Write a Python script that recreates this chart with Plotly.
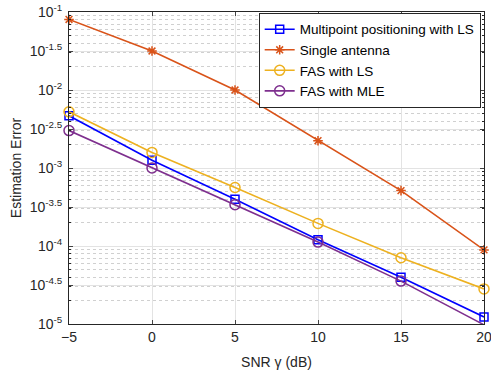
import numpy as np
import plotly.graph_objects as go

snr = [-5, 0, 5, 10, 15, 20]
log_multipoint = [-2.33, -2.90, -3.40, -3.92, -4.40, -4.91]
log_single = [-1.096, -1.50, -2.00, -2.65, -3.29, -4.05]
log_fas_ls = [-2.28, -2.80, -3.25, -3.71, -4.15, -4.55]
log_fas_mle = [-2.52, -3.00, -3.47, -3.95, -4.45, -5.01]

ytick_exps = ["-1", "-1.5", "-2", "-2.5", "-3", "-3.5", "-4", "-4.5", "-5"]
xticks = [-5, 0, 5, 10, 15, 20]

series = [
    ("Multipoint positioning with LS", log_multipoint, "#0000FF", "square-open", 8),
    ("Single antenna", log_single, "#D95319", "asterisk-open", 8),
    ("FAS with LS", log_fas_ls, "#EDB120", "circle-open", 10),
    ("FAS with MLE", log_fas_mle, "#7E2F8E", "circle-open", 10),
]

fig = go.Figure()
for name, vals, color, sym, size in series:
    fig.add_trace(go.Scatter(
        x=snr, y=[10 ** v for v in vals], name=name, mode="lines+markers",
        line=dict(color=color, width=1.6),
        marker=dict(symbol=sym, size=size, color=color, line=dict(color=color, width=1.5)),
        cliponaxis=False,
    ))

yvals = [10 ** float(e) for e in ytick_exps]
ytext = ["10<sup>%s</sup>" % e for e in ytick_exps]
minor_vals = [m * 10 ** d for d in range(-5, -1) for m in range(2, 10)]

fig.update_layout(
    width=491, height=376,
    margin=dict(l=69, r=7, t=12, b=52),
    paper_bgcolor="white", plot_bgcolor="white",
    font=dict(family="Liberation Sans, Arial, sans-serif", size=14, color="#262626"),
    legend=dict(x=0.992, y=0.997, xanchor="right", yanchor="top",
                bgcolor="white", bordercolor="#262626", borderwidth=1,
                font=dict(size=13.5, color="black"), tracegroupgap=0,
                itemwidth=30),
    showlegend=True,
)
fig.update_xaxes(
    range=[-5, 20], tickvals=xticks, ticks="inside", ticklen=4,
    showline=True, linecolor="#262626", linewidth=1, mirror="ticks",
    showgrid=True, gridcolor="#e3e3e3", gridwidth=1, zeroline=False,
    title=dict(text="SNR γ (dB)", standoff=13, font=dict(size=14)),
    tickfont=dict(size=14), automargin=False, ticklabeloverflow="allow",
)
fig.update_yaxes(
    type="log", range=[-5, -1], tickvals=yvals, ticktext=ytext,
    ticks="inside", ticklen=4, ticklabelstandoff=3,
    showline=True, linecolor="#262626", linewidth=1, mirror="ticks",
    showgrid=True, gridcolor="#e3e3e3", gridwidth=1, zeroline=False,
    minor=dict(tickvals=minor_vals, showgrid=True, gridcolor="#d0d0d0",
               griddash="dot", ticks="inside", ticklen=2, tickcolor="#262626"),
    title=dict(text="Estimation Error", standoff=4, font=dict(size=14)),
    tickfont=dict(size=14), automargin=False, ticklabeloverflow="allow",
)

fig.write_html("out.html", config={"displayModeBar": False},
               post_script="document.body.style.margin='0';document.body.style.overflow='hidden';")
